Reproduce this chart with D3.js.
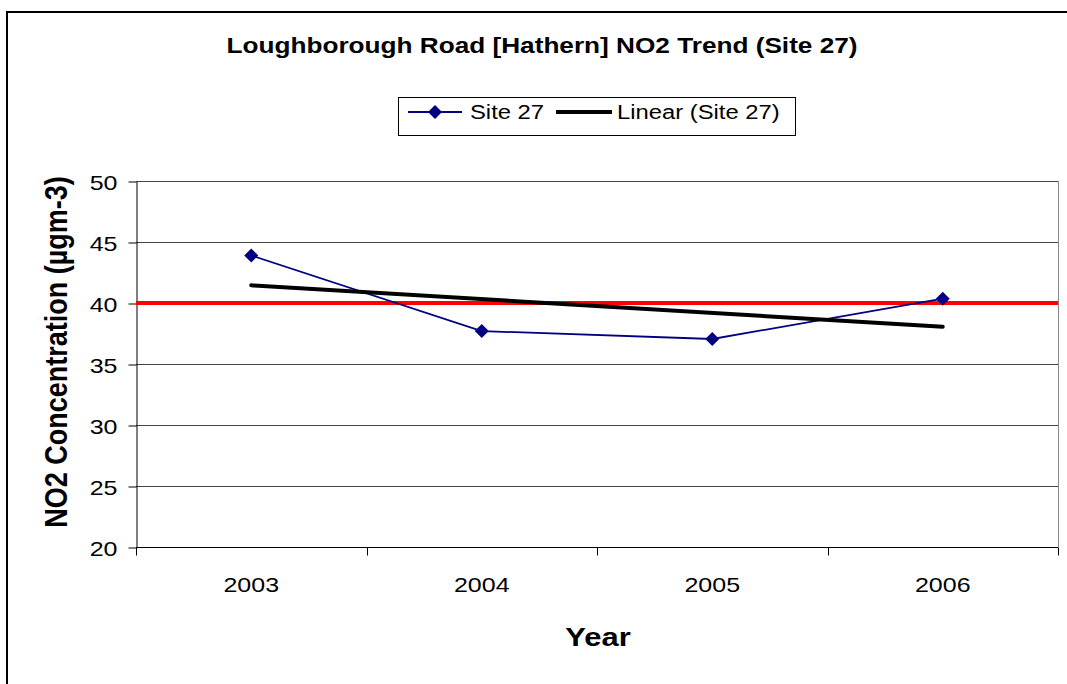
<!DOCTYPE html>
<html>
<head>
<meta charset="utf-8">
<script src="https://cdn.jsdelivr.net/npm/d3@7"></script>
<style>
	body { margin: 0; background: #fff; }
	svg text { font-family: "Liberation Sans", Arial, sans-serif; fill: #000; }
</style>
</head>
<body>
<svg id="chart" width="1067" height="684"></svg>
<script>
'use strict';
(function() {
	// data
	var years = ['2003', '2004', '2005', '2006'];
	var site27 = [43.9, 37.7, 37.05, 40.35];
	var yTicks = [20, 25, 30, 35, 40, 45, 50];
	var objective = 40;

	var SX = 1.19; // the picture's text is a little wide

	var svg = d3.select('#chart');
	var plot = { left: 136, right: 1058, top: 181, bottom: 547 };

	var x = d3.scaleBand().domain(years).range([plot.left, plot.right]).padding(0);
	var y = d3.scaleLinear().domain([20, 50]).range([plot.bottom, plot.top]);
	var cx = function(d) { return x(d) + x.bandwidth() / 2; };

	//outer chart border (runs off the right and bottom of the picture)
	svg.append('rect')
		.attr('x', 7).attr('y', 12)
		.attr('width', 1100).attr('height', 700)
		.attr('fill', 'none').attr('stroke', '#000').attr('stroke-width', 2);

	//title
	svg.append('text')
		.attr('transform', 'translate(542,53) scale(' + SX + ',1)')
		.attr('text-anchor', 'middle')
		.style('font-size', '22px').style('font-weight', 'bold')
		.text('Loughborough Road [Hathern] NO2 Trend (Site 27)');

	//gridlines
	svg.append('g').selectAll('line')
		.data(yTicks.slice(1))
		.enter().append('line')
			.attr('x1', plot.left).attr('x2', plot.right)
			.attr('y1', function(d) { return Math.round(y(d)) + 0.5; })
			.attr('y2', function(d) { return Math.round(y(d)) + 0.5; })
			.attr('stroke', '#444').attr('stroke-width', 1);
	//right border of the plot
	svg.append('line')
		.attr('x1', plot.right + 0.5).attr('x2', plot.right + 0.5)
		.attr('y1', plot.top).attr('y2', plot.bottom)
		.attr('stroke', '#888');

	//y axis
	var yAxis = svg.append('g')
		.attr('transform', 'translate(' + (plot.left + 0.5) + ',0.5)')
		.call(d3.axisLeft(y).tickValues(yTicks).tickSize(8).tickSizeOuter(0));
	yAxis.select('.domain').attr('stroke', '#000');
	yAxis.selectAll('text')
		.attr('x', null).attr('dy', null)
		.attr('transform', 'translate(-19,7.5) scale(' + SX + ',1)')
		.style('font-size', '21px').style('font-family', null);

	//x axis
	var xAxis = svg.append('g')
		.attr('transform', 'translate(0,' + (plot.bottom + 0.5) + ')');
	xAxis.append('line')
		.attr('x1', plot.left).attr('x2', plot.right)
		.attr('stroke', '#000');
	xAxis.selectAll('line.tick')
		.data(years.concat(['end']))
		.enter().append('line')
			.classed('tick', true)
			.attr('x1', function(d, i) { return Math.round(i < years.length ? x(d) : plot.right) + 0.5; })
			.attr('x2', function(d, i) { return Math.round(i < years.length ? x(d) : plot.right) + 0.5; })
			.attr('y1', 0).attr('y2', 8)
			.attr('stroke', '#000');
	xAxis.selectAll('text')
		.data(years)
		.enter().append('text')
			.attr('transform', function(d) { return 'translate(' + cx(d) + ',44) scale(' + SX + ',1)'; })
			.attr('text-anchor', 'middle')
			.style('font-size', '21px')
			.text(function(d) { return d; });

	//axis titles
	svg.append('text')
		.attr('transform', 'translate(598,646) scale(' + SX + ',1)')
		.attr('text-anchor', 'middle')
		.style('font-size', '26px').style('font-weight', 'bold')
		.text('Year');
	svg.append('text')
		.attr('transform', 'translate(67,352) scale(' + SX + ',1) rotate(-90)')
		.attr('text-anchor', 'middle')
		.style('font-size', '27px').style('font-weight', 'bold')
		.text('NO2 Concentration (µgm-3)');

	//objective line at 40
	svg.append('line')
		.attr('x1', plot.left).attr('x2', plot.right)
		.attr('y1', y(objective)).attr('y2', y(objective))
		.attr('stroke', '#ff0000').attr('stroke-width', 4);

	//site data
	var pts = years.map(function(d, i) { return [cx(d), y(site27[i])]; });
	svg.append('path')
		.attr('d', d3.line()(pts))
		.attr('fill', 'none').attr('stroke', '#000080').attr('stroke-width', 1.8);

	//least squares trend of the site data
	var idx = years.map(function(d, i) { return i; });
	var mx = d3.mean(idx), my = d3.mean(site27);
	var slope = d3.sum(idx, function(i) { return (i - mx) * (site27[i] - my); }) /
		d3.sum(idx, function(i) { return (i - mx) * (i - mx); });
	var trend = [0, years.length - 1].map(function(i) {
		return [cx(years[i]), y(my + slope * (i - mx))];
	});
	svg.append('path')
		.attr('d', d3.line()(trend))
		.attr('fill', 'none').attr('stroke', '#000').attr('stroke-width', 4)
		.attr('stroke-linecap', 'round');

	var diamond = d3.symbol().type(d3.symbolSquare).size(98);
	svg.append('g').selectAll('path')
		.data(pts)
		.enter().append('path')
			.attr('d', diamond)
			.attr('transform', function(d) { return 'translate(' + d[0] + ',' + d[1] + ') rotate(45)'; })
			.attr('fill', '#000080');

	//legend
	var legend = svg.append('g');
	legend.append('rect')
		.attr('x', 398.5).attr('y', 97.5)
		.attr('width', 397).attr('height', 38)
		.attr('fill', '#fff').attr('stroke', '#000').attr('stroke-width', 1);
	legend.append('line')
		.attr('x1', 408).attr('x2', 462).attr('y1', 112).attr('y2', 112)
		.attr('stroke', '#000080').attr('stroke-width', 1.8);
	legend.append('path')
		.attr('d', diamond)
		.attr('transform', 'translate(435,112) rotate(45)')
		.attr('fill', '#000080');
	legend.append('text')
		.attr('transform', 'translate(470,119) scale(' + SX + ',1)')
		.style('font-size', '20px')
		.text('Site 27');
	legend.append('line')
		.attr('x1', 556).attr('x2', 612).attr('y1', 112).attr('y2', 112)
		.attr('stroke', '#000').attr('stroke-width', 4);
	legend.append('text')
		.attr('transform', 'translate(617,119) scale(' + SX + ',1)')
		.style('font-size', '20px')
		.text('Linear (Site 27)');
})();
</script>
</body>
</html>
